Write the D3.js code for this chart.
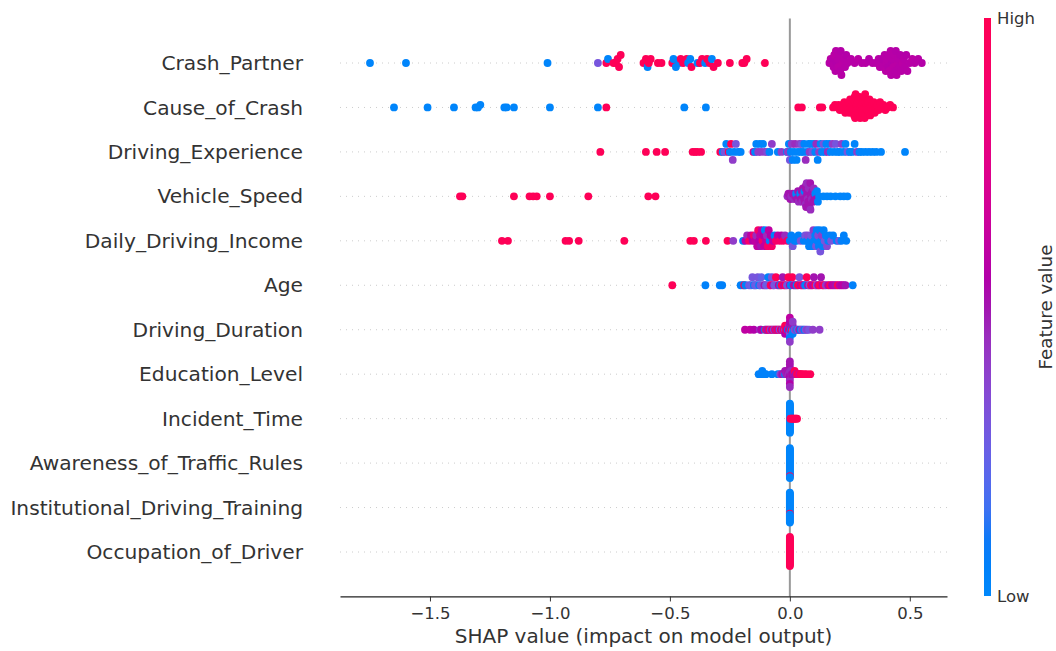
<!DOCTYPE html>
<html>
<head>
<meta charset="utf-8">
<script src="https://cdn.jsdelivr.net/npm/d3@7"></script>
<style>
  body { margin: 0; background: #fff; }
  text { font-family: "DejaVu Sans", sans-serif; }
</style>
</head>
<body>
<svg id="chart" width="1056" height="651"></svg>
<script>

/* feature names, top to bottom */
var features = [
    "Crash_Partner", "Cause_of_Crash", "Driving_Experience", "Vehicle_Speed",
    "Daily_Driving_Income", "Age", "Driving_Duration", "Education_Level",
    "Incident_Time", "Awareness_of_Traffic_Rules", "Institutional_Driving_Training",
    "Occupation_of_Driver"
];

var xTicks = [-1.5, -1.0, -0.5, 0.0, 0.5];
var xLabel = "SHAP value (impact on model output)";
var colorLabels = ["Low", "High"];
var colorTitle = "Feature value";

/* [shap value, normalised feature value] */
var crashPartner = [
    [-1.75,.02],[-1.60,.02],[-1.01,.02],[-0.80,.3],[-0.765,.98],[-0.758,.02],[-0.735,.98],[-0.725,.98],
    [-0.718,.98],[-0.712,.98],[-0.705,.98],[-0.61,.98],[-0.60,.98],[-0.593,.02],[-0.588,.98],[-0.58,.98],
    [-0.55,.98],[-0.535,.98],[-0.49,.98],[-0.485,.02],[-0.475,.02],[-0.462,.02],[-0.455,.98],[-0.445,.98],
    [-0.43,.98],[-0.424,.02],[-0.415,.02],[-0.41,.98],[-0.385,.02],[-0.375,.98],[-0.366,.98],[-0.353,.02],
    [-0.345,.98],[-0.335,.98],[-0.325,.02],[-0.318,.98],[-0.30,.98],[-0.25,.98],[-0.198,.98],[-0.19,.98],
    [-0.18,.98],[-0.104,.98],
    [0.165,.57],[0.17,.58],[0.175,.57],[0.18,.56],[0.182,.57],[0.185,.58],[0.19,.57],[0.192,.57],[0.195,.56],
    [0.20,.57],[0.202,.58],[0.205,.57],[0.21,.57],[0.212,.56],[0.215,.57],[0.22,.58],[0.225,.57],[0.23,.57],
    [0.235,.56],[0.24,.57],[0.255,.57],[0.27,.57],[0.285,.58],[0.30,.57],[0.315,.57],[0.33,.56],[0.345,.57],
    [0.36,.57],[0.37,.57],[0.375,.58],[0.38,.57],[0.385,.56],[0.39,.57],[0.395,.57],[0.40,.58],[0.402,.57],
    [0.405,.57],[0.41,.56],[0.412,.57],[0.415,.58],[0.42,.57],[0.422,.57],[0.425,.56],[0.43,.57],[0.432,.58],
    [0.435,.57],[0.44,.57],[0.442,.56],[0.445,.57],[0.45,.58],[0.452,.57],[0.455,.57],[0.46,.56],[0.465,.57],
    [0.47,.58],[0.475,.57],[0.48,.57],[0.485,.56],[0.49,.57],[0.50,.57],[0.51,.58],[0.52,.57],[0.535,.57],[0.55,.56]
];

var causeOfCrash = [
    [-1.65,.02],[-1.51,.02],[-1.40,.02],[-1.31,.02],[-1.30,.02],[-1.29,.02],[-1.19,.02],[-1.18,.02],
    [-1.15,.02],[-1.00,.02],[-0.80,.02],[-0.765,.98],[-0.44,.02],[-0.35,.02],[0.035,.98],[0.05,.98],
    [0.125,.98],[0.135,.98],
    [0.18,.98],[0.188,.98],[0.198,.98],[0.203,.98],[0.208,.98],[0.215,.98],[0.219,.98],[0.223,.98],
    [0.227,.98],[0.231,.98],[0.236,.98],[0.239,.98],[0.242,.98],[0.245,.98],[0.248,.98],[0.251,.98],
    [0.254,.98],[0.258,.98],[0.26,.98],[0.262,.98],[0.264,.98],[0.266,.98],[0.268,.98],[0.27,.98],
    [0.272,.98],[0.274,.98],[0.277,.98],[0.279,.98],[0.281,.98],[0.283,.98],[0.285,.98],[0.287,.98],
    [0.289,.98],[0.291,.98],[0.293,.98],[0.295,.98],[0.297,.98],[0.30,.98],[0.302,.98],[0.304,.98],
    [0.306,.98],[0.308,.98],[0.31,.98],[0.312,.98],[0.314,.98],[0.316,.98],[0.32,.98],[0.323,.98],
    [0.326,.98],[0.329,.98],[0.332,.98],[0.335,.98],[0.338,.98],[0.342,.98],[0.346,.98],[0.35,.98],
    [0.354,.98],[0.358,.98],[0.364,.98],[0.37,.98],[0.376,.98],[0.382,.98],[0.39,.98],[0.398,.98],
    [0.408,.98],[0.418,.98],[0.43,.98]
];

var drivingExperience = [
    [-0.79,.98],[-0.60,.98],[-0.555,.98],[-0.52,.98],[-0.405,.98],[-0.395,.98],[-0.385,.98],[-0.37,.98],
    [-0.29,.98],[-0.28,.02],[-0.272,.3],[-0.265,.02],[-0.255,.98],[-0.25,.02],[-0.245,.98],[-0.238,.4],
    [-0.232,.02],[-0.225,.3],[-0.215,.02],[-0.205,.02],[-0.152,.65],[-0.145,.02],[-0.14,.02],[-0.132,.4],
    [-0.125,.02],[-0.12,.4],[-0.112,.02],[-0.105,.4],[-0.095,.35],[-0.085,.02],[-0.075,.4],[-0.05,.02],
    [-0.035,.4],[-0.012,.02],[-0.008,.4],[-0.004,.02],[0.0,.3],[0.004,.02],[0.008,.4],[0.012,.02],
    [0.018,.02],[0.022,.45],[0.028,.02],[0.034,.02],[0.04,.4],[0.046,.02],[0.05,.3],[0.056,.02],[0.06,.02],
    [0.066,.45],[0.072,.02],[0.078,.02],[0.082,.4],[0.088,.02],[0.094,.3],[0.10,.02],[0.106,.02],[0.11,.45],
    [0.116,.02],[0.122,.4],[0.128,.02],[0.134,.02],[0.14,.3],[0.146,.02],[0.152,.02],[0.158,.45],[0.164,.02],
    [0.17,.02],[0.178,.4],[0.185,.02],[0.192,.3],[0.20,.02],[0.208,.02],[0.216,.4],[0.224,.02],[0.232,.02],
    [0.24,.3],[0.25,.02],[0.26,.02],[0.27,.02],[0.28,.4],[0.29,.02],[0.30,.02],[0.315,.02],[0.33,.02],
    [0.345,.02],[0.36,.02],[0.38,.02],[0.48,.02]
];

var vehicleSpeed = [
    [-1.375,.98],[-1.365,.98],[-1.15,.98],[-1.085,.98],[-1.07,.98],[-1.055,.98],[-1.0,.98],[-0.84,.98],
    [-0.59,.98],[-0.56,.98],
    [-0.01,.45],[-0.006,.5],[0.002,.5],[0.006,.45],[0.012,.5],[0.018,.45],[0.022,.5],[0.026,.02],[0.03,.5],
    [0.034,.5],[0.037,.45],[0.04,.5],[0.043,.02],[0.046,.5],[0.05,.5],[0.052,.45],[0.054,.5],[0.056,.5],
    [0.058,.45],[0.06,.5],[0.061,.02],[0.062,.5],[0.065,.5],[0.066,.45],[0.067,.5],[0.068,.5],[0.07,.45],
    [0.071,.5],[0.072,.5],[0.074,.45],[0.075,.5],[0.077,.5],[0.079,.45],[0.081,.5],[0.082,.45],[0.083,.5],
    [0.085,.5],[0.086,.45],[0.088,.5],[0.09,.5],[0.092,.45],[0.094,.5],[0.097,.5],[0.1,.45],[0.103,.5],
    [0.106,.02],[0.109,.5],[0.113,.02],[0.117,.02],[0.122,.02],[0.14,.02],[0.155,.02],[0.17,.02],[0.19,.02],
    [0.21,.02],[0.225,.02],[0.24,.02]
];

var dailyDrivingIncome = [
    [-1.20,.98],[-1.175,.98],[-0.935,.98],[-0.92,.98],[-0.88,.98],[-0.69,.98],[-0.415,.98],[-0.40,.98],
    [-0.35,.98],[-0.26,.98],[-0.236,.4],[-0.195,.05],[-0.185,.6],[-0.178,.45],[-0.17,.9],[-0.162,.6],
    [-0.155,.55],[-0.15,.9],[-0.145,.6],[-0.14,.45],[-0.136,.6],[-0.132,.9],[-0.128,.55],[-0.124,.6],
    [-0.12,.5],[-0.117,.6],[-0.114,.9],[-0.11,.55],[-0.107,.6],[-0.104,.05],[-0.1,.6],[-0.096,.45],
    [-0.092,.9],[-0.088,.6],[-0.084,.05],[-0.08,.55],[-0.075,.9],[-0.07,.6],[-0.064,.05],[-0.058,.9],
    [-0.05,.6],[-0.042,.9],[-0.035,.55],[-0.028,.9],[-0.02,.45],[-0.01,.9],[0.0,.05],[0.006,.05],
    [0.012,.3],[0.02,.05],[0.028,.05],[0.036,.05],[0.045,.3],[0.058,.05],[0.064,.3],[0.07,.05],[0.075,.35],
    [0.08,.05],[0.085,.05],[0.09,.3],[0.094,.05],[0.098,.4],[0.102,.05],[0.106,.05],[0.109,.3],[0.112,.05],
    [0.115,.05],[0.118,.35],[0.121,.05],[0.124,.05],[0.127,.3],[0.13,.05],[0.133,.4],[0.137,.05],[0.141,.05],
    [0.145,.3],[0.15,.05],[0.155,.35],[0.16,.05],[0.166,.05],[0.172,.3],[0.18,.05],[0.195,.05],[0.205,.3],
    [0.215,.05],[0.225,.05],[0.235,.05]
];

var age = [
    [-0.49,.98],[-0.352,.05],[-0.292,.05],[-0.282,.05],[-0.205,.05],[-0.195,.05],[-0.19,.98],[-0.185,.05],
    [-0.17,.3],[-0.162,.25],[-0.156,.3],[-0.15,.05],[-0.145,.3],[-0.14,.25],[-0.134,.3],[-0.128,.05],
    [-0.122,.3],[-0.118,.25],[-0.112,.3],[-0.106,.5],[-0.1,.3],[-0.095,.25],[-0.09,.05],[-0.085,.3],
    [-0.08,.98],[-0.075,.3],[-0.07,.6],[-0.065,.3],[-0.058,.98],[-0.052,.3],[-0.046,.6],[-0.04,.05],
    [-0.035,.98],[-0.03,.5],[-0.024,.6],[-0.018,.98],[-0.012,.3],[-0.006,.98],[0.0,.6],[0.004,.05],
    [0.01,.98],[0.016,.5],[0.022,.6],[0.028,.05],[0.034,.98],[0.04,.3],[0.046,.6],[0.052,.98],[0.058,.5],
    [0.064,.05],[0.07,.98],[0.076,.6],[0.082,.3],[0.088,.98],[0.094,.6],[0.1,.5],[0.106,.98],[0.112,.3],
    [0.118,.6],[0.124,.98],[0.13,.5],[0.136,.6],[0.142,.98],[0.15,.4],[0.16,.6],[0.168,.98],[0.176,.55],
    [0.184,.6],[0.192,.5],[0.2,.98],[0.208,.6],[0.216,.55],[0.224,.6],[0.232,.5],[0.262,.05]
];

var drivingDuration = [
    [-0.187,.6],[-0.166,.6],[-0.15,.55],[-0.124,.4],[-0.12,.55],[-0.104,.05],[-0.10,.98],[-0.095,.5],
    [-0.09,.6],[-0.085,.98],[-0.08,.4],[-0.075,.55],[-0.07,.98],[-0.066,.3],[-0.062,.6],[-0.058,.98],
    [-0.054,.5],[-0.05,.98],[-0.046,.6],[-0.042,.3],[-0.038,.98],[-0.034,.55],[-0.03,.4],[-0.026,.98],
    [-0.022,.6],[-0.02,.3],[-0.02,.98],[-0.02,.55],[-0.016,.98],[-0.012,.55],[-0.008,.05],[-0.005,.6],
    [-0.002,.4],[0.0,.98],[0.0,.5],[0.0,.3],[0.0,.55],[0.0,.05],[0.0,.6],[0.0,.4],[0.002,.55],[0.005,.05],
    [0.008,.98],[0.012,.3],[0.012,.5],[0.012,.05],[0.012,.4],[0.018,.05],[0.02,.3],[0.025,.4],[0.03,.05],
    [0.034,.3],[0.04,.5],[0.045,.05],[0.05,.3],[0.055,.4],[0.06,.05],[0.066,.3],[0.072,.4],[0.08,.3],
    [0.096,.4],[0.124,.4]
];

var educationLevel = [
    [-0.13,.05],[-0.12,.05],[-0.115,.05],[-0.115,.05],[-0.105,.05],[-0.1,.05],[-0.075,.05],[-0.05,.05],
    [-0.04,.3],[-0.035,.45],[-0.03,.5],[-0.025,.45],[-0.02,.05],[-0.02,.5],[-0.015,.45],[-0.012,.5],
    [-0.01,.45],[-0.01,.5],[-0.006,.5],[-0.004,.45],[0.0,.5],[0.0,.45],[0.0,.55],[0.0,.5],[0.0,.45],
    [0.0,.5],[0.0,.55],[0.0,.5],[0.0,.45],[0.004,.5],[0.004,.45],[0.008,.5],[0.01,.5],[0.012,.55],
    [0.015,.5],[0.02,.5],[0.02,.98],[0.025,.5],[0.03,.98],[0.035,.98],[0.04,.7],[0.045,.98],[0.05,.98],
    [0.06,.98],[0.07,.98],[0.085,.98]
];

var incidentTime = [
    [0,.02],[0,.02],[0,.02],[0,.02],[0,.02],[0,.02],[0,.02],[0,.02],[0,.02],[0,.02],
    [0,.02],[0,.02],[0,.02],[0,.02],[0,.02],[0,.02],[0,.02],[0,.02],[0,.02],[0,.02],
    [0,.02],[0,.02],[0,.02],[0,.02],[0,.02],[0,.02],[0,.02],[0,.02],[0,.02],[0,.02],
    [0.002,.98],[0.006,.98],[0.01,.98],[0.014,.98],[0.018,.98],[0.022,.98],[0.026,.98],[0.03,.98]
];

var awarenessOfTrafficRules = [
    [0,.02],[0,.02],[0,.02],[0,.02],[0,.02],[0,.02],[0,.02],[0,.02],[0,.02],[0,.02],
    [0,.02],[0,.02],[0,.02],[0,.02],[0,.02],[0,.02],[0,.02],[0,.02],[0,.02],[0,.02],
    [0,.02],[0,.02],[0,.02],[0,.02],[0,.02],[0,.02],[0,.98],[0,.02],[0,.02],[0,.02],[0,.02]
];

var institutionalDrivingTraining = [
    [0,.02],[0,.02],[0,.02],[0,.02],[0,.02],[0,.02],[0,.02],[0,.02],[0,.02],[0,.02],
    [0,.02],[0,.02],[0,.98],[0,.02],[0,.02],[0,.02],[0,.02],[0,.02],[0,.02],[0,.02],
    [0,.02],[0,.02],[0,.02],[0,.02],[0,.02],[0,.02],[0,.02],[0,.02],[0,.02],[0,.02],[0,.02]
];

var occupationOfDriver = [
    [0,.98],[0,.98],[0,.98],[0,.98],[0,.98],[0,.98],[0,.98],[0,.98],[0,.98],[0,.98],
    [0,.98],[0,.98],[0,.98],[0,.98],[0,.98],[0,.98],[0,.98],[0,.98],[0,.98],[0,.98],
    [0,.98],[0,.98],[0,.98],[0,.98],[0,.98],[0,.98],[0,.98],[0,.98],[0,.98],[0,.98]
];

var rows = [
    crashPartner, causeOfCrash, drivingExperience, vehicleSpeed, dailyDrivingIncome, age,
    drivingDuration, educationLevel, incidentTime, awarenessOfTrafficRules,
    institutionalDrivingTraining, occupationOfDriver
];

/* --- Skalen --- */
var svg = d3.select("#chart");

var x = d3.scaleLinear().domain([-1.875, 0.655]).range([340, 947]);
var y = d3.scalePoint().domain(features).range([63, 552]);
var step = y.step();
var plotTop = y(features[0]) - step;
var plotBottom = y(features[features.length - 1]) + step;

/* shap's red_blue colormap, interpolated in LCH */
var color = d3.scaleLinear()
    .domain([0, 0.5, 1])
    .range([d3.hcl(266.9, 70, 54), d3.hcl(323.6, 82, 40), d3.hcl(380.3, 90, 54)])
    .interpolate(d3.interpolateHcl)
    .clamp(true);

/* beeswarm offsets the way shap bins them */
function swarm(points) {
    var nbins = 100;
    var xs = points.map(function(p) { return p[0]; });
    var mn = d3.min(xs), mx = d3.max(xs);
    var quant = xs.map(function(v) { return Math.round(nbins * (v - mn) / (mx - mn + 1e-8)); });
    var order = d3.range(points.length).sort(function(a, b) { return quant[a] - quant[b] || a - b; });
    var ys = new Array(points.length).fill(0);
    var layer = 0, last = -1;
    order.forEach(function(i) {
        if (quant[i] !== last) layer = 0;
        ys[i] = Math.ceil(layer / 2) * ((layer % 2) * 2 - 1);
        layer++;
        last = quant[i];
    });
    var m = d3.max(ys) + 1;
    return ys.map(function(v) { return v * 0.9 * (0.4 / m); });
}

/* dotted row guides */
svg.append("g").selectAll("line")
    .data(features)
    .enter().append("line")
    .attr("x1", 340).attr("x2", 947)
    .attr("y1", function(d) { return y(d); })
    .attr("y2", function(d) { return y(d); })
    .attr("stroke", "#cccccc")
    .attr("stroke-width", 1)
    .attr("stroke-dasharray", "1,5");

/* zero line */
svg.append("line")
    .attr("x1", x(0)).attr("x2", x(0))
    .attr("y1", plotTop).attr("y2", plotBottom)
    .attr("stroke", "#999999")
    .attr("stroke-width", 2);

/* points */
var dots = svg.append("g");
rows.forEach(function(pts, r) {
    var offs = swarm(pts);
    var cy = y(features[r]);
    dots.append("g").selectAll("circle")
        .data(pts)
        .enter().append("circle")
        .attr("cx", function(d) { return x(d[0]); })
        .attr("cy", function(d, i) { return cy - offs[i] * step; })
        .attr("r", 3.9)
        .attr("fill", function(d) { return color(d[1]); });
});

/* feature labels */
svg.append("g").selectAll("text")
    .data(features)
    .enter().append("text")
    .attr("x", 303)
    .attr("y", function(d) { return y(d); })
    .attr("dy", "0.35em")
    .attr("text-anchor", "end")
    .attr("font-size", "20.2px")
    .attr("fill", "#333333")
    .text(function(d) { return d; });

/* x axis */
var xAxis = svg.append("g")
    .attr("transform", "translate(0," + plotBottom + ")")
    .call(d3.axisBottom(x).tickValues(xTicks).tickFormat(d3.format(".1f")).tickSize(5).tickSizeOuter(0).tickPadding(6));
xAxis.select(".domain").attr("stroke", "#222").attr("stroke-width", 1.2);
xAxis.selectAll(".tick line").attr("stroke", "#333");
xAxis.selectAll(".tick text")
    .attr("font-size", "16.5px")
    .attr("font-family", "DejaVu Sans")
    .attr("fill", "#333333");

svg.append("text")
    .attr("x", (x.range()[0] + x.range()[1]) / 2)
    .attr("y", 643)
    .attr("text-anchor", "middle")
    .attr("font-size", "20px")
    .attr("fill", "#333333")
    .text(xLabel);

/* colour bar */
var cbX = 984, cbW = 7, cbTop = 18, cbBottom = 596;
var grad = svg.append("defs").append("linearGradient")
    .attr("id", "cbgrad")
    .attr("x1", 0).attr("y1", 1).attr("x2", 0).attr("y2", 0);
grad.selectAll("stop")
    .data(d3.range(0, 1.0001, 0.05))
    .enter().append("stop")
    .attr("offset", function(d) { return d; })
    .attr("stop-color", function(d) { return color(d); });

svg.append("rect")
    .attr("x", cbX).attr("y", cbTop)
    .attr("width", cbW).attr("height", cbBottom - cbTop)
    .attr("fill", "url(#cbgrad)");

var cbScale = d3.scaleLinear().domain([0, 1]).range([cbBottom, cbTop]);
svg.append("g").selectAll("text")
    .data(colorLabels)
    .enter().append("text")
    .attr("x", cbX + cbW + 6)
    .attr("y", function(d, i) { return cbScale(i); })
    .attr("dy", "0.35em")
    .attr("font-size", "16.5px")
    .attr("fill", "#333333")
    .text(function(d) { return d; });

svg.append("text")
    .attr("transform", "translate(1052," + ((cbTop + cbBottom) / 2) + ") rotate(-90)")
    .attr("text-anchor", "middle")
    .attr("font-size", "18.3px")
    .attr("fill", "#333333")
    .text(colorTitle);

</script>
</body>
</html>
